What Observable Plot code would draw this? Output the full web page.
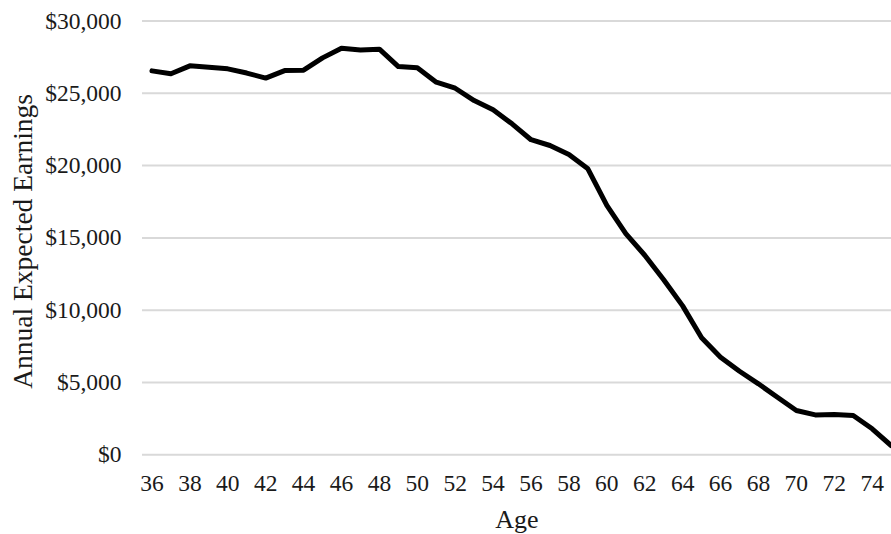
<!DOCTYPE html>
<html>
<head>
<meta charset="utf-8">
<script src="https://cdn.jsdelivr.net/npm/d3@7"></script>
<script src="https://cdn.jsdelivr.net/npm/@observablehq/plot@0.6"></script>
<style>
  html, body { margin: 0; padding: 0; background: #fff; overflow: hidden; }
</style>
</head>
<body>
<div id="chart"></div>
<script>
const ages = [36, 37, 38, 39, 40, 41, 42, 43, 44, 45, 46, 47, 48, 49, 50, 51, 52, 53, 54, 55,
              56, 57, 58, 59, 60, 61, 62, 63, 64, 65, 66, 67, 68, 69, 70, 71, 72, 73, 74, 75];
const earnings = [26550, 26350, 26900, 26800, 26690, 26400, 26050, 26570, 26600, 27450,
                  28120, 28000, 28050, 26850, 26760, 25770, 25350, 24500, 23860, 22890,
                  21790, 21390, 20770, 19780, 17250, 15300, 13800, 12100, 10300, 8100,
                  6750, 5780, 4910, 3980, 3060, 2760, 2790, 2720, 1800, 640];
const xTicks = [36, 38, 40, 42, 44, 46, 48, 50, 52, 54, 56, 58, 60, 62, 64, 66, 68, 70, 72, 74];
const yTicks = [0, 5000, 10000, 15000, 20000, 25000, 30000];
const xTitle = "Age";
const yTitle = "Annual Expected Earnings";

const data = ages.map((a, i) => ({age: a, value: earnings[i]}));

const chart = Plot.plot({
  width: 891,
  height: 534,
  marginLeft: 142,
  marginRight: 0,
  marginTop: 20.5,
  marginBottom: 79.7,
  style: {
    fontFamily: "'Liberation Serif', 'Times New Roman', serif",
    fontSize: "23.5px",
    color: "#1a1a1a",
    background: "#fff",
    overflow: "visible"
  },
  x: {domain: [35.5, 75.02]},
  y: {domain: [0, 30000]},
  marks: [
    Plot.ruleY(yTicks, {stroke: "#d9d9d9", strokeWidth: 2}),
    Plot.axisY({ticks: yTicks, tickSize: 0, tickPadding: 21, tickFormat: d3.format("$,"), label: null}),
    Plot.axisX({ticks: xTicks, tickSize: 0, tickPadding: 20, tickFormat: d => String(d), label: null}),
    Plot.line(data, {x: "age", y: "value", stroke: "#000", strokeWidth: 5, strokeLinejoin: "round", strokeLinecap: "round"}),
    Plot.text([xTitle], {text: d => d, frameAnchor: "bottom", lineAnchor: "bottom", dy: 72.7, fontSize: 26, fill: "#1a1a1a"}),
    Plot.text([yTitle], {text: d => d, frameAnchor: "left", textAnchor: "middle", rotate: -90, dx: -119, dy: 3.5, fontSize: 27.5, fill: "#1a1a1a"})
  ]
});
document.getElementById("chart").appendChild(chart);
</script>
</body>
</html>
